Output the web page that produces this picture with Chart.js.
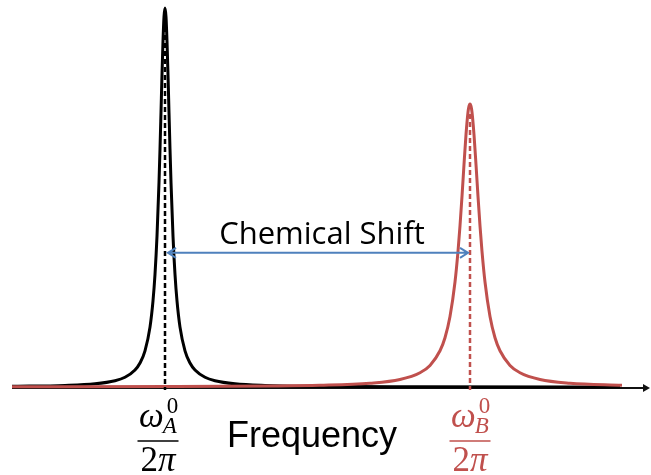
<!DOCTYPE html>
<html>
<head>
<meta charset="utf-8">
<script src="https://cdn.jsdelivr.net/npm/chart.js@4.4.1/dist/chart.umd.min.js"></script>
<style>
	html, body { margin: 0; padding: 0; background: #fff; }
	#wrap { width: 651px; height: 475px; }
</style>
</head>
<body>
<div id="wrap"><canvas id="myChart"></canvas></div>
<script>
(() => {
	"use strict";

	// Peak A (black) samples, frequency units vs relative intensity
	const freqA = [0, 3, 53, 83, 103, 113, 123, 128, 133, 138, 141, 143, 145, 147, 148, 149, 150, 151, 152, 153,
		154, 155, 156, 157, 158, 159, 161, 163, 165, 168, 173, 178, 183, 193, 203, 223, 253, 303, 403, 608];
	const intensityA = [0.0018, 0.0019, 0.0042, 0.0085, 0.0166, 0.0257, 0.0448, 0.0633, 0.0955, 0.158,
		0.227, 0.297, 0.398, 0.540, 0.628, 0.725, 0.824, 0.913, 0.977, 1.0,
		0.977, 0.913, 0.824, 0.725, 0.628, 0.540, 0.398, 0.297, 0.227, 0.158,
		0.0955, 0.0633, 0.0448, 0.0257, 0.0166, 0.0085, 0.0042, 0.0019, 0.0007, 0.0001];

	// Peak B (red) samples
	const freqB = [0, 158, 258, 308, 358, 388, 408, 418, 428, 433, 438, 443, 446, 448, 450, 452, 454, 456, 457, 458,
		459, 460, 462, 464, 466, 468, 470, 473, 478, 483, 488, 498, 508, 528, 558, 610];
	const intensityB = [0.0005, 0.0011, 0.0025, 0.0044, 0.0098, 0.0196, 0.0375, 0.057, 0.0957, 0.130,
		0.186, 0.277, 0.358, 0.425, 0.503, 0.587, 0.666, 0.725, 0.741, 0.747,
		0.741, 0.725, 0.666, 0.587, 0.503, 0.425, 0.358, 0.277, 0.186, 0.130,
		0.0957, 0.057, 0.0375, 0.0196, 0.0098, 0.0044];

	const peakA = 153;
	const peakB = 458;
	const freqMax = 638;
	const shiftLevel = 0.354;

	const BLACK = "#000000";
	const RED = "#c0504d";
	const BLUE = "#4f81bd";

	const toPoints = (xs, ys) => xs.map((x, i) => ({ x: x, y: ys[i] }));

	function drawFraction(ctx, cx, top, color, sub) {
		ctx.save();
		ctx.fillStyle = color;
		ctx.strokeStyle = color;
		ctx.textBaseline = "alphabetic";
		ctx.textAlign = "left";
		const left = cx - 19;
		ctx.font = "italic 35px 'Liberation Serif'";
		ctx.fillText("\u03c9", left, top + 40);
		const w = ctx.measureText("\u03c9").width;
		ctx.font = "italic 23px 'Liberation Serif'";
		ctx.fillText(sub, left + w - 1, top + 46);
		ctx.font = "23px 'Liberation Serif'";
		ctx.fillText("0", left + w + 3, top + 26);
		ctx.lineWidth = 1.6;
		ctx.beginPath();
		ctx.moveTo(cx - 20.5, top + 54);
		ctx.lineTo(cx + 20.5, top + 54);
		ctx.stroke();
		ctx.font = "35px 'Liberation Serif'";
		const w2 = ctx.measureText("2").width;
		ctx.font = "italic 35px 'Liberation Serif'";
		const wp = ctx.measureText("\u03c0").width;
		const start = cx - (w2 + wp) / 2;
		ctx.font = "35px 'Liberation Serif'";
		ctx.fillText("2", start, top + 84);
		ctx.font = "italic 35px 'Liberation Serif'";
		ctx.fillText("\u03c0", start + w2, top + 84);
		ctx.restore();
	}

	const axisPlugin = {
		id: "freqAxis",
		beforeDatasetsDraw(chart) {
			const { ctx, scales: { x, y } } = chart;
			const y0 = y.getPixelForValue(0) + 1;
			const x0 = x.getPixelForValue(0);
			const x1 = x.getPixelForValue(freqMax);
			ctx.save();
			ctx.strokeStyle = "#111";
			ctx.fillStyle = "#111";
			ctx.lineWidth = 2;
			ctx.beginPath();
			ctx.moveTo(x0, y0);
			ctx.lineTo(x1 - 5, y0);
			ctx.stroke();
			ctx.beginPath();
			ctx.moveTo(x1, y0);
			ctx.lineTo(x1 - 7, y0 - 4);
			ctx.lineTo(x1 - 7, y0 + 4);
			ctx.closePath();
			ctx.fill();
			ctx.restore();
		},
		afterDatasetsDraw(chart) {
			const { ctx, scales: { x, y } } = chart;
			const base = y.getPixelForValue(0);
			const xa = Math.round(x.getPixelForValue(peakA));
			const xb = Math.round(x.getPixelForValue(peakB));
			ctx.save();

			// dashed centre lines
			ctx.lineWidth = 2.5;
			ctx.setLineDash([5, 3]);
			ctx.strokeStyle = BLACK;
			ctx.beginPath();
			ctx.moveTo(xa, y.getPixelForValue(0.95));
			ctx.lineTo(xa, base + 3);
			ctx.stroke();
			ctx.strokeStyle = RED;
			ctx.beginPath();
			ctx.moveTo(xb, y.getPixelForValue(0.72));
			ctx.lineTo(xb, base + 3);
			ctx.stroke();
			ctx.setLineDash([]);

			// chemical shift double arrow
			const ys = y.getPixelForValue(shiftLevel);
			const l = xa + 3;
			const r = xb - 2;
			ctx.strokeStyle = BLUE;
			ctx.lineWidth = 2;
			ctx.beginPath();
			ctx.moveTo(l, ys);
			ctx.lineTo(r, ys);
			ctx.moveTo(l + 8, ys - 5);
			ctx.lineTo(l, ys);
			ctx.lineTo(l + 8, ys + 5);
			ctx.moveTo(r - 8, ys - 5);
			ctx.lineTo(r, ys);
			ctx.lineTo(r - 8, ys + 5);
			ctx.stroke();

			ctx.fillStyle = BLACK;
			ctx.textAlign = "center";
			ctx.textBaseline = "alphabetic";
			ctx.font = "31px 'Open Sans'";
			ctx.fillText("Chemical Shift", (l + r) / 2 + 4, ys - 9);

			ctx.font = "36px 'Liberation Sans'";
			ctx.fillText("Frequency", x.getPixelForValue(300), base + 60);
			ctx.restore();

			drawFraction(ctx, xa - 7, base, BLACK, "A");
			drawFraction(ctx, xb, base, RED, "B");
		},
	};

	const ctx = document.getElementById("myChart");
	// eslint-disable-next-line no-unused-vars
	const myChart = new Chart(ctx, {
		type: "line",
		data: {
			datasets: [
				{
					label: "A",
					data: toPoints(freqA, intensityA),
					borderColor: BLACK,
					borderWidth: 3,
					cubicInterpolationMode: "monotone",
					pointRadius: 0,
					clip: false,
					order: 1,
				},
				{
					label: "B",
					data: toPoints(freqB, intensityB),
					borderColor: RED,
					borderWidth: 3,
					cubicInterpolationMode: "monotone",
					pointRadius: 0,
					clip: false,
					order: 0,
				},
			],
		},
		options: {
			responsive: true,
			maintainAspectRatio: false,
			animation: false,
			layout: {
				padding: { left: 12, right: 1, top: 8, bottom: 88 },
			},
			plugins: {
				legend: { display: false },
				tooltip: { enabled: false },
			},
			scales: {
				x: { type: "linear", min: 0, max: freqMax, display: false },
				y: { min: 0, max: 1, display: false },
			},
		},
		plugins: [axisPlugin],
	});
})();
</script>
</body>
</html>
